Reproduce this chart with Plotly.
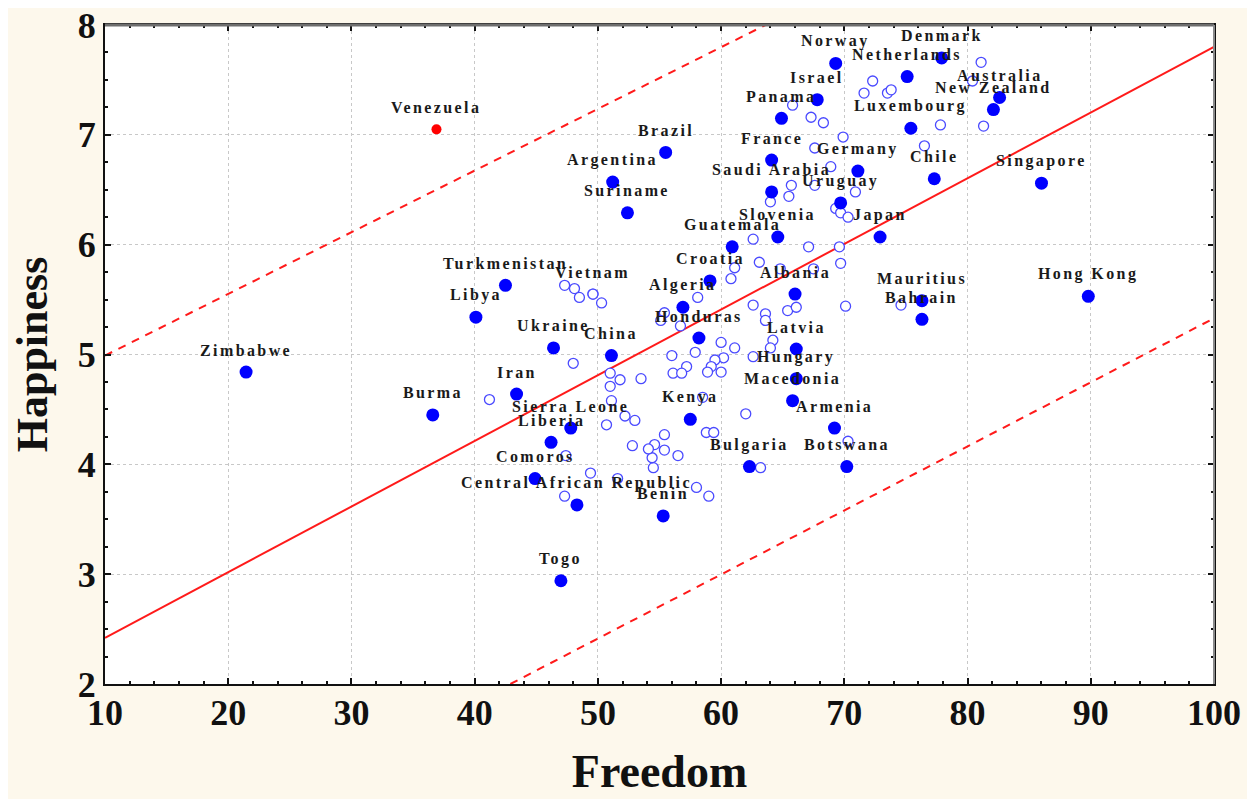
import plotly.graph_objects as go

# ---- labeled countries (filled markers) ----
country_names = ["Zimbabwe", "Burma", "Turkmenistan", "Libya", "Iran", "Ukraine", "China",
                 "Sierra Leone", "Liberia", "Comoros", "Central African Republic", "Benin", "Togo",
                 "Kenya", "Bulgaria", "Botswana", "Armenia", "Macedonia", "Hungary", "Latvia",
                 "Honduras", "Algeria", "Croatia", "Albania", "Guatemala", "Slovenia", "Japan",
                 "Mauritius", "Bahrain", "Hong Kong", "Singapore", "Chile", "Germany", "Uruguay",
                 "Saudi Arabia", "France", "Suriname", "Argentina", "Brazil", "Panama", "Israel",
                 "Norway", "Netherlands", "Denmark", "Luxembourg", "Australia", "New Zealand"]
country_freedom = [21.45, 36.6, 42.5, 40.1, 43.4, 46.4, 51.1,
                   47.8, 46.2, 44.9, 48.3, 55.3, 47.0,
                   57.5, 62.3, 70.2, 69.2, 65.8, 66.1, 66.1,
                   58.2, 56.9, 59.1, 66.0, 60.9, 64.6, 72.9,
                   76.3, 76.3, 89.8, 86.0, 77.3, 71.1, 69.7,
                   64.1, 64.1, 52.4, 51.2, 55.5, 64.9, 67.8,
                   69.3, 75.1, 77.9, 75.4, 82.6, 82.1]
country_happiness = [4.84, 4.45, 5.63, 5.34, 4.64, 5.06, 4.99,
                     4.33, 4.20, 3.87, 3.63, 3.53, 2.94,
                     4.41, 3.98, 3.98, 4.33, 4.58, 4.78, 5.05,
                     5.15, 5.43, 5.67, 5.55, 5.98, 6.07, 6.07,
                     5.49, 5.32, 5.53, 6.56, 6.60, 6.67, 6.38,
                     6.48, 6.77, 6.29, 6.57, 6.84, 7.15, 7.32,
                     7.65, 7.53, 7.70, 7.06, 7.34, 7.23]

# ---- outlier ----
outlier_name = "Venezuela"
outlier_freedom = 36.9
outlier_happiness = 7.05

# ---- labeled point drawn as an open marker ----
open_label_name = "Vietnam"
open_label_freedom = 49.6
open_label_happiness = 5.55

# ---- other (unlabeled) countries ----
other_freedom = [72.3, 71.6, 73.5, 73.8, 81.1, 80.4, 65.8, 67.3, 68.3, 69.9, 67.6, 68.9,
                 77.8, 81.3, 76.5, 65.7, 65.5, 64.0, 67.6, 70.9, 69.3, 69.7, 70.3,
                 62.6, 67.1, 69.6, 63.1, 61.1, 60.8, 64.8, 67.5, 69.7, 58.1, 62.6,
                 65.4, 66.1, 63.6, 63.6, 70.1, 74.6, 55.4, 55.1, 56.7,
                 47.3, 48.1, 48.5, 49.6, 50.3, 48.0, 60.0, 61.1, 57.9, 56.0, 60.2,
                 59.5, 59.2, 57.2, 58.9, 60.0, 56.1, 56.8, 53.5, 62.6, 64.2, 64.0,
                 51.0, 51.8, 51.0, 51.1, 41.2, 52.2, 53.0, 50.7, 58.5, 62.0, 58.8,
                 59.4, 55.4, 54.6, 55.4, 56.5, 54.5, 54.4, 54.1, 52.8, 63.2, 70.3,
                 58.0, 59.0, 47.4, 49.4, 51.6, 47.3]
other_happiness = [7.49, 7.38, 7.38, 7.41, 7.66, 7.49, 7.27, 7.16, 7.11, 6.98, 6.88, 6.71,
                   7.09, 7.08, 6.90, 6.54, 6.44, 6.39, 6.54, 6.48, 6.33, 6.29, 6.25,
                   6.05, 5.98, 5.98, 5.84, 5.79, 5.69, 5.78, 5.78, 5.83, 5.52, 5.45,
                   5.40, 5.43, 5.37, 5.31, 5.44, 5.45, 5.38, 5.31, 5.26,
                   5.63, 5.60, 5.52, 5.55, 5.47, 4.92, 5.11, 5.06, 5.02, 4.99, 4.97,
                   4.95, 4.89, 4.89, 4.84, 4.84, 4.83, 4.83, 4.78, 4.98, 5.13, 5.06,
                   4.83, 4.77, 4.71, 4.58, 4.59, 4.44, 4.40, 4.36, 4.61, 4.46, 4.29,
                   4.29, 4.27, 4.18, 4.13, 4.08, 3.97, 4.06, 4.14, 4.17, 3.97, 4.21,
                   3.79, 3.71, 4.08, 3.92, 3.87, 3.71]

# ---- regression line and prediction band ----
fit_x = [10, 100]
fit_y = [2.42, 7.80]
upper_x = [10, 63.6]
upper_y = [4.99, 8.0]
lower_x = [42.9, 100]
lower_y = [2.0, 5.33]

x_ticks = [10, 20, 30, 40, 50, 60, 70, 80, 90, 100]
y_ticks = [2, 3, 4, 5, 6, 7, 8]

SERIF = "Liberation Serif"
RED = "#ff1a1a"

fig = go.Figure()

fig.add_trace(go.Scatter(x=fit_x, y=fit_y, mode="lines",
                         line=dict(color=RED, width=2), hoverinfo="skip"))
fig.add_trace(go.Scatter(x=upper_x, y=upper_y, mode="lines",
                         line=dict(color=RED, width=2, dash="8px,7px"), hoverinfo="skip"))
fig.add_trace(go.Scatter(x=lower_x, y=lower_y, mode="lines",
                         line=dict(color=RED, width=2, dash="8px,7px"), hoverinfo="skip"))

fig.add_trace(go.Scatter(x=other_freedom + [open_label_freedom],
                         y=other_happiness + [open_label_happiness], mode="markers",
                         marker=dict(symbol="circle", size=10, color="white",
                                     line=dict(color="#4a4aff", width=1.3))))
fig.add_trace(go.Scatter(x=country_freedom, y=country_happiness, mode="markers",
                         text=country_names,
                         marker=dict(symbol="circle", size=13, color="#0000ff")))
fig.add_trace(go.Scatter(x=[outlier_freedom], y=[outlier_happiness], mode="markers",
                         text=[outlier_name],
                         marker=dict(symbol="circle", size=10, color="#ff0000")))

label_font = dict(family=SERIF, size=16, color="#1a1a1a", weight="bold")
all_names = country_names + [outlier_name, open_label_name]
all_x = country_freedom + [outlier_freedom, open_label_freedom]
all_y = country_happiness + [outlier_happiness, open_label_happiness]
for n, xv, yv in zip(all_names, all_x, all_y):
    fig.add_annotation(x=xv, y=yv, text='<span style="letter-spacing:2.4px">' + n + '</span>',
                       showarrow=False, yshift=22,
                       xanchor="center", yanchor="middle", font=label_font)

axis_common = dict(
    showline=True, linecolor="#111111", linewidth=2, mirror="ticks",
    ticks="inside", ticklen=6, tickwidth=1.5, tickcolor="#111111",
    showgrid=True, gridcolor="#c8c8c8", griddash="dot", gridwidth=1,
    zeroline=False, ticklabeloverflow="allow",
    tickfont=dict(family=SERIF, size=36, color="#111111", weight="bold"),
)

fig.update_layout(
    width=1255, height=799,
    paper_bgcolor="#fdf8ec", plot_bgcolor="white",
    margin=dict(l=97, r=49, t=17, b=123),
    showlegend=False,
    xaxis=dict(range=[10, 100], tickvals=x_ticks, ticklabelstandoff=-4,
               minor=dict(dtick=2, ticks="inside", ticklen=3, tickcolor="#111111", showgrid=False),
               title=dict(text="Freedom", standoff=23,
                          font=dict(family=SERIF, size=46, color="#111111", weight="bold")),
               automargin=False, **axis_common),
    yaxis=dict(range=[2, 8], tickvals=y_ticks,
               minor=dict(dtick=0.25, ticks="inside", ticklen=3, tickcolor="#111111", showgrid=False),
               title=dict(text="Happiness", standoff=21,
                          font=dict(family=SERIF, size=44, color="#111111", weight="bold")),
               automargin=False, **axis_common),
)

# softer gray frame on top and right, as in the original
fig.add_shape(type="line", xref="paper", yref="paper", x0=0, x1=1, y0=1, y1=1,
              line=dict(color="#6e6e6e", width=3))
fig.add_shape(type="line", xref="paper", yref="paper", x0=1, x1=1, y0=0, y1=1,
              line=dict(color="#8a8a8a", width=2))

fig.write_html("out.html")
